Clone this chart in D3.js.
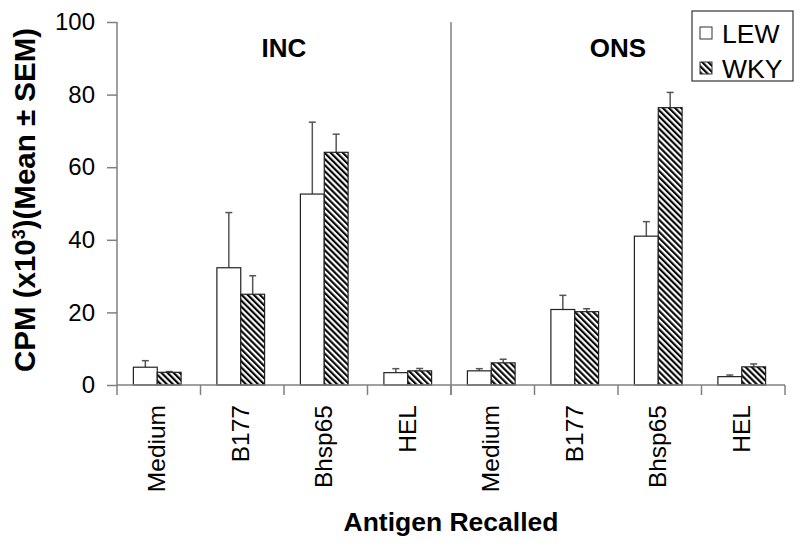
<!DOCTYPE html>
<html>
<head>
<meta charset="utf-8">
<script src="https://cdn.jsdelivr.net/npm/d3@7"></script>
<style>
  body { margin: 0; background: #fff; }
  text { font-family: "Liberation Sans", Arial, sans-serif; fill: #000; }
</style>
</head>
<body>
<svg id="chart" width="800" height="547"></svg>
<script>
const groups = ['INC', 'ONS'];
const antigens = ['Medium', 'B177', 'Bhsp65', 'HEL'];
const series = ['LEW', 'WKY'];
const lewMean = [4.9, 32.3, 52.6, 3.4, 3.9, 20.8, 41.0, 2.3];
const lewSem = [1.8, 15.2, 19.8, 1.1, 0.6, 3.9, 4.0, 0.45];
const wkyMean = [3.5, 25.0, 64.1, 3.9, 6.1, 20.2, 76.4, 5.0];
const wkySem = [0.2, 5.1, 5.0, 0.65, 1.0, 0.8, 4.2, 0.8];
const yTicks = [0, 20, 40, 60, 80, 100];

const svg = d3.select('#chart');
const plotLeft = 117, plotRight = 785, plotTop = 22, plotBottom = 385;

// one key per group/antigen pair
const keys = [];
groups.forEach((g) => antigens.forEach((a) => keys.push(g + '|' + a)));

const x = d3.scaleBand().domain(keys).range([plotLeft, plotRight]).padding(0);
const xg = d3.scaleBand().domain(groups).range([plotLeft, plotRight]).padding(0);
const xs = d3.scaleBand().domain(series).range([0, x.bandwidth()])
  .paddingInner(0).paddingOuter(0.75);
const y = d3.scaleLinear().domain([0, 100]).range([plotBottom, plotTop]);

const defs = svg.append('defs');
defs.append('pattern')
  .attr('id', 'hatch')
  .attr('patternUnits', 'userSpaceOnUse')
  .attr('width', 4.3)
  .attr('height', 4.3)
  .attr('patternTransform', 'rotate(-45)')
  .call((p) => {
    p.append('rect').attr('width', 4.3).attr('height', 4.3).attr('fill', '#fff');
    p.append('line').attr('x1', 1.1).attr('x2', 1.1).attr('y1', 0).attr('y2', 4.3)
      .attr('stroke', '#000').attr('stroke-width', 2.1);
  });

const rows = [];
keys.forEach((k, i) => {
  rows.push({ key: k, s: 'LEW', v: lewMean[i], e: lewSem[i] });
  rows.push({ key: k, s: 'WKY', v: wkyMean[i], e: wkySem[i] });
});

// error bars (upper only)
const err = svg.append('g').attr('stroke', '#555').attr('stroke-width', 1.5);
rows.forEach((d) => {
  const cx = x(d.key) + xs(d.s) + xs.bandwidth() / 2 - 1.5;
  err.append('line').attr('x1', cx).attr('x2', cx).attr('y1', y(d.v)).attr('y2', y(d.v + d.e));
  err.append('line').attr('x1', cx - 3.5).attr('x2', cx + 3.5).attr('y1', y(d.v + d.e)).attr('y2', y(d.v + d.e));
});

svg.append('g')
  .selectAll('rect')
  .data(rows)
  .enter()
  .append('rect')
  .attr('x', (d) => x(d.key) + xs(d.s) - 1.5)
  .attr('y', (d) => y(d.v))
  .attr('width', xs.bandwidth())
  .attr('height', (d) => y(0) - y(d.v))
  .attr('fill', (d) => (d.s === 'LEW' ? '#fff' : 'url(#hatch)'))
  .attr('stroke', '#222')
  .attr('stroke-width', 1.2);

// y axis
const yAxis = svg.append('g')
  .attr('transform', `translate(${plotLeft},0)`)
  .call(d3.axisLeft(y).tickValues(yTicks).tickSize(10).tickPadding(12));
yAxis.selectAll('path, line').attr('stroke', '#808080').attr('stroke-width', 1.5);
yAxis.select('.domain').attr('d', `M0,${plotTop}V${plotBottom}`);
yAxis.selectAll('text').attr('font-size', 24).attr('font-family', '"Liberation Sans", Arial, sans-serif');

// x axis: boundary ticks
const xAxis = svg.append('g').attr('stroke', '#808080').attr('stroke-width', 1.5);
xAxis.append('line').attr('x1', plotLeft).attr('x2', plotRight).attr('y1', plotBottom).attr('y2', plotBottom);
keys.concat(['end']).forEach((k, i) => {
  const bx = i < keys.length ? x(k) : plotRight;
  xAxis.append('line').attr('x1', bx).attr('x2', bx).attr('y1', plotBottom).attr('y2', plotBottom + 10);
});
// divider between groups
xAxis.append('line')
  .attr('x1', xg('ONS')).attr('x2', xg('ONS'))
  .attr('y1', plotTop).attr('y2', plotBottom + 10);

// category labels
svg.append('g')
  .selectAll('text')
  .data(keys)
  .enter()
  .append('text')
  .attr('transform', (k) => `translate(${x(k) + x.bandwidth() / 2 - 2},405) rotate(-90)`)
  .attr('dy', '0.35em')
  .attr('text-anchor', 'end')
  .attr('font-size', 24.5)
  .text((k) => k.split('|')[1]);

// group labels
svg.append('g')
  .selectAll('text')
  .data(groups)
  .enter()
  .append('text')
  .attr('x', (g) => xg(g) + xg.bandwidth() / 2)
  .attr('y', 57)
  .attr('text-anchor', 'middle')
  .attr('font-size', 26)
  .attr('font-weight', 'bold')
  .text((g) => g);

// axis titles
const yt = svg.append('text')
  .attr('transform', 'translate(35,200) rotate(-90)')
  .attr('text-anchor', 'middle')
  .attr('font-size', 29.5)
  .attr('font-weight', 'bold');
yt.append('tspan').text('CPM (x10');
yt.append('tspan').attr('baseline-shift', 'super').attr('font-size', 18).text('3');
yt.append('tspan').text(')(Mean \u00b1 SEM)');

svg.append('text')
  .attr('x', (plotLeft + plotRight) / 2)
  .attr('y', 531)
  .attr('text-anchor', 'middle')
  .attr('font-size', 26.5)
  .attr('font-weight', 'bold')
  .text('Antigen Recalled');

// legend
const lg = svg.append('g');
lg.append('rect').attr('x', 692).attr('y', 11).attr('width', 101).attr('height', 70)
  .attr('fill', '#fff').attr('stroke', '#333').attr('stroke-width', 1.2);
series.forEach((s, i) => {
  lg.append('rect').attr('x', 700).attr('y', 27 + i * 35).attr('width', 12).attr('height', 12)
    .attr('fill', s === 'LEW' ? '#fff' : 'url(#hatch)').attr('stroke', '#333').attr('stroke-width', 1);
  lg.append('text').attr('x', 722).attr('y', 43 + i * 35).attr('font-size', 26.5).text(s);
});
</script>
</body>
</html>
